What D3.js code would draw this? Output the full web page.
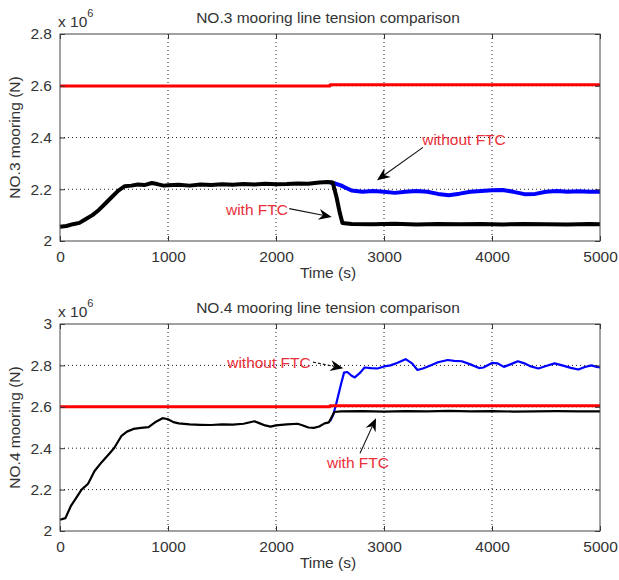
<!DOCTYPE html>
<html>
<head>
<meta charset="utf-8">
<script src="https://cdn.jsdelivr.net/npm/d3@7"></script>
<style>
  body { margin: 0; background: #fff; }
  svg { display: block; font-family: "Liberation Sans", Arial, sans-serif; }
</style>
</head>
<body>
<div class="viz"></div>
<script>
// ---- data ----
const xTicks = [0, 1000, 2000, 3000, 4000, 5000];
const topYTicks = [2, 2.2, 2.4, 2.6, 2.8];
const botYTicks = [2, 2.2, 2.4, 2.6, 2.8, 3];

// NO.3 line
const topWithT = [0, 60, 120, 180, 240, 300, 360, 420, 480, 540, 600, 660, 720, 780, 850, 900, 960, 1000, 1100, 1200, 1300, 1400, 1500, 1600, 1700, 1800, 1900, 2000, 2100, 2200, 2300, 2400, 2480, 2525, 2560, 2590, 2615, 2700, 2900, 3100, 3300, 3500, 3700, 3900, 4100, 4300, 4500, 4700, 4900, 5000];
const topWithV = [2.055, 2.058, 2.065, 2.07, 2.085, 2.10, 2.12, 2.145, 2.17, 2.195, 2.212, 2.214, 2.218, 2.216, 2.224, 2.22, 2.214, 2.215, 2.217, 2.214, 2.218, 2.216, 2.219, 2.217, 2.22, 2.218, 2.221, 2.219, 2.22, 2.222, 2.221, 2.226, 2.228, 2.226, 2.17, 2.11, 2.07, 2.066, 2.065, 2.067, 2.064, 2.066, 2.065, 2.066, 2.064, 2.066, 2.065, 2.064, 2.066, 2.065];
const topWithoutT = [2500, 2550, 2600, 2650, 2700, 2800, 2900, 3000, 3100, 3200, 3300, 3400, 3500, 3600, 3700, 3800, 3900, 4000, 4100, 4200, 4300, 4400, 4500, 4600, 4700, 4800, 4900, 5000];
const topWithoutV = [2.226, 2.222, 2.215, 2.205, 2.195, 2.19, 2.193, 2.19, 2.186, 2.19, 2.193, 2.19, 2.182, 2.177, 2.183, 2.19, 2.193, 2.196, 2.197, 2.19, 2.181, 2.182, 2.19, 2.193, 2.19, 2.192, 2.19, 2.19];
const topLimitT = [0, 2500, 2500, 5000];
const topLimitV = [2.599, 2.599, 2.604, 2.604];

// NO.4 line
const botWithT = [0, 50, 100, 150, 200, 260, 320, 390, 450, 500, 570, 620, 680, 750, 820, 880, 950, 1000, 1050, 1100, 1200, 1300, 1400, 1500, 1600, 1700, 1800, 1850, 1900, 1950, 2000, 2100, 2200, 2250, 2300, 2350, 2400, 2450, 2490, 2510, 2540, 2600, 2800, 3000, 3200, 3400, 3600, 3800, 4000, 4200, 4400, 4600, 4800, 5000];
const botWithV = [2.054, 2.062, 2.12, 2.16, 2.2, 2.228, 2.29, 2.335, 2.37, 2.40, 2.46, 2.48, 2.493, 2.498, 2.502, 2.525, 2.545, 2.54, 2.526, 2.52, 2.515, 2.513, 2.512, 2.515, 2.514, 2.518, 2.53, 2.52, 2.51, 2.504, 2.51, 2.515, 2.518, 2.51, 2.5, 2.498, 2.505, 2.52, 2.525, 2.545, 2.575, 2.578, 2.579, 2.577, 2.579, 2.578, 2.58, 2.578, 2.579, 2.577, 2.578, 2.579, 2.578, 2.578];
const botWithoutT = [2500, 2530, 2560, 2600, 2630, 2660, 2700, 2730, 2780, 2820, 2880, 2940, 3000, 3060, 3120, 3200, 3260, 3310, 3360, 3430, 3500, 3590, 3650, 3720, 3800, 3880, 3920, 4000, 4050, 4110, 4170, 4240, 4300, 4360, 4430, 4500, 4580, 4650, 4730, 4800, 4860, 4920, 4970, 5000];
const botWithoutV = [2.53, 2.56, 2.62, 2.705, 2.765, 2.768, 2.75, 2.742, 2.765, 2.79, 2.787, 2.785, 2.795, 2.80, 2.812, 2.83, 2.81, 2.778, 2.785, 2.80, 2.815, 2.826, 2.822, 2.82, 2.805, 2.787, 2.79, 2.812, 2.81, 2.793, 2.805, 2.82, 2.81, 2.795, 2.785, 2.797, 2.81, 2.8, 2.788, 2.78, 2.792, 2.80, 2.793, 2.79];
const botLimitT = [0, 2500, 2500, 5000];
const botLimitV = [2.6, 2.6, 2.605, 2.605];

const zip = (ts, vs) => ts.map((t, i) => ({ t: t, v: vs[i] }));

const panels = [
  {
    top: 34, bottom: 241, yDomain: [2, 2.8], yTicks: topYTicks,
    title: "NO.3 mooring line tension comparison",
    ylabel: "NO.3 mooring (N)",
    series: [
      { data: zip(topLimitT, topLimitV), color: "#ff0000", w: 3 },
      { data: zip(topWithoutT, topWithoutV), color: "#0000ff", w: 4 },
      { data: zip(topWithT, topWithV), color: "#000000", w: 4 }
    ],
    notes: [
      { text: "without FTC", tx: 3741, tv: 2.392, from: [3361, 2.362], to: [2935, 2.235], dash: null },
      { text: "with FTC", tx: 1824, tv: 2.121, from: [2123, 2.125], to: [2516, 2.093], dash: null }
    ]
  },
  {
    top: 324, bottom: 531, yDomain: [2, 3], yTicks: botYTicks,
    title: "NO.4 mooring line tension comparison",
    ylabel: "NO.4 mooring (N)",
    series: [
      { data: zip(botWithoutT, botWithoutV), color: "#0000ff", w: 2.2 },
      { data: zip(botLimitT, botLimitV), color: "#ff0000", w: 3 },
      { data: zip(botWithT, botWithV), color: "#000000", w: 2.2 }
    ],
    notes: [
      { text: "without FTC", tx: 1935, tv: 2.814, from: [2343, 2.816], to: [2623, 2.786], dash: "3,2" },
      { text: "with FTC", tx: 2759, tv: 2.328, from: [2778, 2.376], to: [2926, 2.545], dash: null }
    ]
  }
];

const width = 619, height = 580;
const left = 60, right = 600;

const svg = d3.select(".viz").append("svg")
  .attr("width", width).attr("height", height);

svg.append("rect").attr("width", width).attr("height", height).attr("fill", "#fff");

const xScale = d3.scaleLinear().domain([0, 5000]).range([left, right]);

panels.forEach(p => {
  const yScale = d3.scaleLinear().domain(p.yDomain).range([p.bottom, p.top]);
  const g = svg.append("g");

  // grid
  g.append("g").selectAll("line").data(xTicks.slice(1, -1)).join("line")
    .attr("x1", d => xScale(d)).attr("x2", d => xScale(d))
    .attr("y1", p.top).attr("y2", p.bottom)
    .attr("stroke", "#222").attr("stroke-width", 1).attr("stroke-dasharray", "1,3");
  g.append("g").selectAll("line").data(p.yTicks.slice(1, -1)).join("line")
    .attr("x1", left).attr("x2", right)
    .attr("y1", d => yScale(d)).attr("y2", d => yScale(d))
    .attr("stroke", "#222").attr("stroke-width", 1).attr("stroke-dasharray", "1,3");

  // data lines
  const line = d3.line().x(d => xScale(d.t)).y(d => yScale(d.v));
  p.series.forEach(s => {
    g.append("path").attr("d", line(s.data))
      .attr("fill", "none").attr("stroke", s.color)
      .attr("stroke-width", s.w).attr("stroke-linejoin", "round");
  });

  // axes (ticks on all four sides, pointing inward)
  const tickLen = 5;
  g.append("g").attr("transform", `translate(0,${p.bottom})`)
    .call(d3.axisBottom(xScale).tickValues(xTicks).tickSize(-tickLen).tickPadding(10).tickFormat(d3.format("d")))
    .call(a => a.select(".domain").remove());
  g.append("g").attr("transform", `translate(0,${p.top})`)
    .call(d3.axisTop(xScale).tickValues(xTicks).tickSize(-tickLen).tickFormat(""))
    .call(a => a.select(".domain").remove());
  g.append("g").attr("transform", `translate(${left},0)`)
    .call(d3.axisLeft(yScale).tickValues(p.yTicks).tickSize(-tickLen).tickPadding(8).tickFormat(d3.format("~g")))
    .call(a => a.select(".domain").remove());
  g.append("g").attr("transform", `translate(${right},0)`)
    .call(d3.axisRight(yScale).tickValues(p.yTicks).tickSize(-tickLen).tickFormat(""))
    .call(a => a.select(".domain").remove());

  g.selectAll(".tick line").attr("stroke", "#333");
  g.selectAll(".tick text").attr("fill", "#333")
    .style("font-size", "15.5px").style("font-family", "'Liberation Sans', Arial, sans-serif");

  g.append("rect").attr("x", left).attr("y", p.top)
    .attr("width", right - left).attr("height", p.bottom - p.top)
    .attr("fill", "none").attr("stroke", "#444").attr("stroke-width", 1);

  // title, labels, exponent
  g.append("text").attr("x", (left + right) / 2 - 2).attr("y", p.top - 11)
    .attr("text-anchor", "middle").attr("fill", "#333").style("font-size", "15.5px")
    .text(p.title);
  g.append("text").attr("x", (left + right) / 2 - 2).attr("y", p.bottom + 37)
    .attr("text-anchor", "middle").attr("fill", "#333").style("font-size", "15.5px")
    .text("Time (s)");
  g.append("text")
    .attr("transform", `translate(20,${(p.top + p.bottom) / 2}) rotate(-90)`)
    .attr("text-anchor", "middle").attr("fill", "#333").style("font-size", "15.5px")
    .text(p.ylabel);
  const ex = g.append("text").attr("x", 58).attr("y", p.top - 7).attr("fill", "#333")
    .style("font-size", "15.5px");
  ex.append("tspan").text("x 10");
  ex.append("tspan").attr("dy", -10).style("font-size", "11px").text("6");

  // annotations
  p.notes.forEach(n => {
    g.append("text").attr("x", xScale(n.tx)).attr("y", yScale(n.tv) + 5)
      .attr("text-anchor", "middle").attr("fill", "#e8303a").style("font-size", "15.5px")
      .text(n.text);
    const x1 = xScale(n.from[0]), y1 = yScale(n.from[1]);
    const x2 = xScale(n.to[0]), y2 = yScale(n.to[1]);
    const ang = Math.atan2(y2 - y1, x2 - x1);
    const L = 13, W = 5.5, back = 9;
    const bx = x2 - back * Math.cos(ang), by = y2 - back * Math.sin(ang);
    g.append("line").attr("x1", x1).attr("y1", y1).attr("x2", bx).attr("y2", by)
      .attr("stroke", "#111").attr("stroke-width", 1.1)
      .attr("stroke-dasharray", n.dash);
    const c = Math.cos(ang), s = Math.sin(ang);
    const px = x2 - L * c, py = y2 - L * s;
    const head = [
      [x2, y2],
      [px - W * s, py + W * c],
      [bx, by],
      [px + W * s, py - W * c]
    ];
    g.append("path").attr("d", "M" + head.map(q => q.join(",")).join("L") + "Z")
      .attr("fill", "#000");
  });
});
</script>
</body>
</html>
